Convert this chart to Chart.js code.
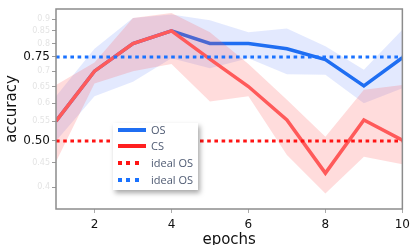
<!DOCTYPE html>
<html><head><meta charset="utf-8">
<script src="https://cdn.jsdelivr.net/npm/chart.js@4/dist/chart.umd.min.js"></script>
<style>
html,body{margin:0;padding:0;background:#fff;overflow:hidden;}
#wrap{position:relative;width:415px;height:245px;}
#legend{position:absolute;left:113px;top:123px;width:85px;height:67px;background:#fff;box-shadow:2px 3px 5px rgba(0,0,0,0.35);font-family:"Open Sans",sans-serif;font-size:11px;color:#4e5a72;}
.sw{position:absolute;left:5px;height:4px;}
.tx{position:absolute;left:38px;line-height:14px;white-space:nowrap;}
</style></head><body>
<div id="wrap"><canvas id="c" width="415" height="245"></canvas><div id="legend"></div></div>
<script>
const epochs = [1, 2, 3, 4, 5, 6, 7, 8, 9, 10];
const osMean = [0.55, 0.70, 0.80, 0.85, 0.80, 0.80, 0.78, 0.74, 0.652, 0.747];
const osHigh = [0.62, 0.78, 0.905, 0.92, 0.895, 0.845, 0.86, 0.79, 0.705, 0.855];
const osLow  = [0.50, 0.62, 0.665, 0.745, 0.71, 0.745, 0.69, 0.688, 0.60, 0.645];
const csMean = [0.55, 0.70, 0.80, 0.85, 0.742, 0.65, 0.553, 0.428, 0.553, 0.502];
const csHigh = [0.655, 0.73, 0.905, 0.927, 0.845, 0.725, 0.61, 0.51, 0.64, 0.655];
const csLow  = [0.452, 0.66, 0.70, 0.725, 0.605, 0.62, 0.467, 0.388, 0.463, 0.447];
const idealOSBlue = [0.75, 0.75, 0.75, 0.75, 0.75, 0.75, 0.75, 0.75, 0.75, 0.75];
const idealOSRed  = [0.50, 0.50, 0.50, 0.50, 0.50, 0.50, 0.50, 0.50, 0.50, 0.50];
const seriesNames = ['OS', 'CS', 'ideal OS', 'ideal OS'];
const yTicks = [0.4, 0.45, 0.5, 0.55, 0.6, 0.65, 0.7, 0.75, 0.8, 0.85, 0.9];
const yMajorTicks = [0.5, 0.75];
const xTicks = [2, 4, 6, 8, 10];

const BLUE = '#1f6ef2', RED = '#ff5a5a', DOT_RED = '#ff1414', DOT_BLUE = '#1a72ff';
const BLUE_BAND = 'rgba(70,110,250,0.15)', RED_BAND = 'rgba(255,80,80,0.2)';

const pts = arr => arr.map((v, i) => ({x: epochs[i], y: v}));
const isMajor = v => yMajorTicks.some(m => Math.abs(m - v) < 1e-9);
const base = {pointRadius: 0, tension: 0, borderCapStyle: 'butt', borderJoinStyle: 'miter'};

const frame = {
  id: 'frame',
  afterDraw(chart) {
    const {ctx, chartArea: a} = chart;
    ctx.save();
    ctx.strokeStyle = '#8c8c8c';
    ctx.lineWidth = 1.5;
    ctx.strokeRect(a.left, a.top, a.right - a.left, a.bottom - a.top);
    ctx.restore();
  }
};

new Chart(document.getElementById('c'), {
  type: 'line',
  data: {
    datasets: [
      Object.assign({label: 'osHigh', data: pts(osHigh), borderColor: 'rgba(0,0,0,0)', borderWidth: 0, backgroundColor: BLUE_BAND, fill: '+1', order: 7}, base),
      Object.assign({label: 'osLow', data: pts(osLow), borderColor: 'rgba(0,0,0,0)', borderWidth: 0, fill: false, order: 7}, base),
      Object.assign({label: seriesNames[0], data: pts(osMean), borderColor: BLUE, borderWidth: 3.5, fill: false, order: 6}, base),
      Object.assign({label: 'csHigh', data: pts(csHigh), borderColor: 'rgba(0,0,0,0)', borderWidth: 0, backgroundColor: RED_BAND, fill: '+1', order: 5}, base),
      Object.assign({label: 'csLow', data: pts(csLow), borderColor: 'rgba(0,0,0,0)', borderWidth: 0, fill: false, order: 5}, base),
      Object.assign({label: seriesNames[1], data: pts(csMean), borderColor: RED, borderWidth: 3.5, fill: false, order: 4}, base),
      Object.assign({label: seriesNames[2], data: pts(idealOSRed), borderColor: DOT_RED, borderWidth: 3, borderDash: [3.6, 3.6], fill: false, order: 3}, base),
      Object.assign({label: seriesNames[3], data: pts(idealOSBlue), borderColor: DOT_BLUE, borderWidth: 3, borderDash: [3.6, 3.6], fill: false, order: 2}, base)
    ]
  },
  options: {
    responsive: false,
    animation: false,
    devicePixelRatio: 1,
    layout: {padding: {top: 9, right: 7, left: 0, bottom: 0}},
    plugins: {legend: {display: false}, tooltip: {enabled: false}},
    scales: {
      x: {
        type: 'linear', min: 1, max: 10,
        afterBuildTicks: s => { s.ticks = xTicks.map(v => ({value: v})); },
        afterFit: s => { s.height = 36; },
        ticks: {font: {family: 'DejaVu Sans', size: 12}, color: '#111', padding: 5, maxRotation: 0, autoSkip: false},
        grid: {drawOnChartArea: false, drawTicks: true, tickLength: 4, tickColor: '#aaa'},
        border: {display: false},
        title: {display: true, text: 'epochs', font: {family: 'DejaVu Sans', size: 15, lineHeight: 1}, color: '#111', padding: {top: 0, bottom: -3}}
      },
      y: {
        type: 'logarithmic', min: 0.36, max: 0.945,
        afterBuildTicks: s => { s.ticks = yTicks.map(v => ({value: v})); },
        afterFit: s => { s.width = 56; },
        ticks: {
          autoSkip: false, padding: 2,
          callback: v => isMajor(v) ? Number(v).toFixed(2) : String(v),
          color: c => isMajor(c.tick.value) ? '#111' : '#e4e4e4',
          font: c => isMajor(c.tick.value) ? {family: 'DejaVu Sans', size: 12} : {family: 'DejaVu Sans', size: 8}
        },
        grid: {drawOnChartArea: false, drawTicks: true, tickLength: 4, tickColor: '#9a9a9a'},
        border: {display: false},
        title: {display: true, text: 'accuracy', font: {family: 'DejaVu Sans', size: 15, lineHeight: 1}, color: '#111', padding: {top: 5, bottom: 0}}
      }
    }
  },
  plugins: [frame]
});

// HTML legend
const legendItems = [
  {name: seriesNames[0], color: BLUE, dotted: false},
  {name: seriesNames[1], color: '#ff2020', dotted: false},
  {name: seriesNames[2], color: DOT_RED, dotted: true},
  {name: seriesNames[3], color: DOT_BLUE, dotted: true}
];
const rowCenters = [6.5, 23, 40, 57];
const lg = document.getElementById('legend');
legendItems.forEach((it, i) => {
  const sw = document.createElement('div');
  sw.className = 'sw';
  sw.style.top = (rowCenters[i] - 2) + 'px';
  if (it.dotted) {
    sw.style.width = '25px';
    sw.style.background = `repeating-linear-gradient(90deg, ${it.color} 0 4px, transparent 4px 8.4px)`;
  } else {
    sw.style.width = '28px';
    sw.style.background = it.color;
  }
  lg.appendChild(sw);
  const tx = document.createElement('div');
  tx.className = 'tx';
  tx.style.top = (rowCenters[i] - 7) + 'px';
  tx.textContent = it.name;
  lg.appendChild(tx);
});
</script>
</body></html>
